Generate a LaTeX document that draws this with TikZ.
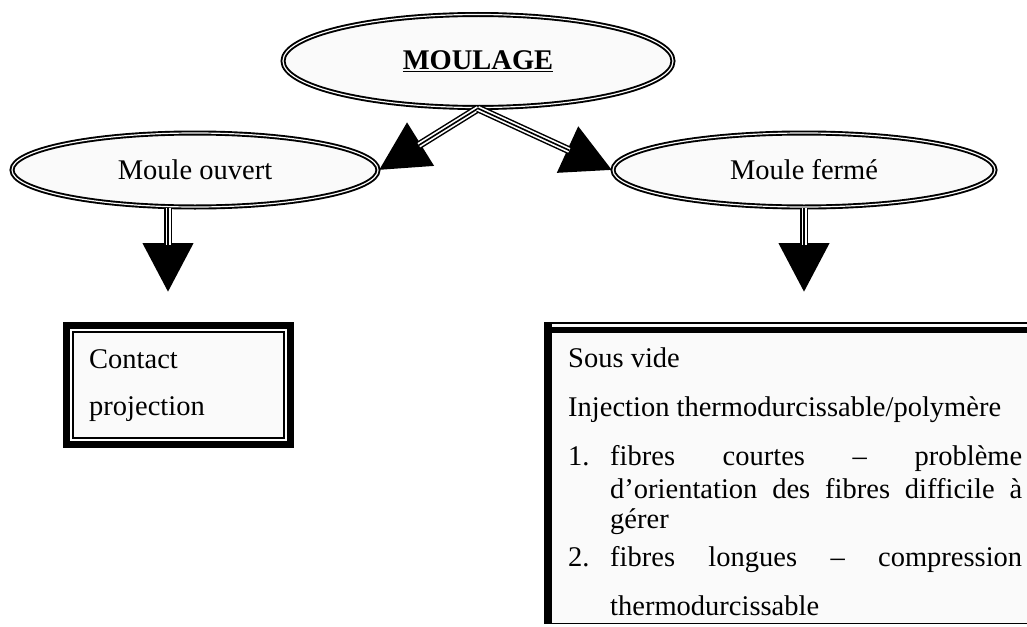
\documentclass[tikz,border=0pt]{standalone}
\usepackage{fontspec}
\setmainfont{Liberation Serif}
\usetikzlibrary{shapes.geometric,arrows.meta}
\definecolor{paper}{RGB}{250,250,250}
\begin{document}
\begin{tikzpicture}[x=1pt,y=-1pt,
  every node/.style={font=\fontsize{28.5}{34}\selectfont, inner sep=0pt},
  oval/.style={ellipse, draw, fill=paper, line width=1.9pt, double=paper, double distance=1.2pt},
  arr/.style={line width=8pt, -{Triangle[length=49pt,width=49pt]},
    postaction={draw=white, line width=5pt, -, shorten >=47pt},
    postaction={draw=black, line width=1.6pt, -, shorten >=47pt}},
  txt/.style={anchor=base west},
  frame/.style={draw, fill=paper, line width=1.2pt}
]
\useasboundingbox (0,0) rectangle (1027,626);
\clip (0,0) rectangle (1027,626);
\fill[white] (0,0) rectangle (1027,626);

% ellipses
\node[oval, minimum width=390pt, minimum height=93pt] (moulage) at (478,61) {\textbf{\underline{MOULAGE}}};
\node[oval, minimum width=366pt, minimum height=74pt] (ouvert) at (195,170) {Moule ouvert};
\node[oval, minimum width=382pt, minimum height=74pt] (ferme) at (804,170) {Moule fermé};

% left box
\node[frame, minimum width=211pt, minimum height=106pt] (contact) at (178.5,385) {};
\draw[line width=7pt] ([shift={(-5.5,-5.5)}]contact.north west) rectangle ([shift={(5.5,5.5)}]contact.south east);
\node[txt] (c1) at (89,368) {Contact};
\node[txt] (c2) at (89,415) {projection};

% right box
\node[frame, minimum width=495pt, minimum height=300.5pt] (bigbox) at (792.5,473.25) {};
\draw[line width=8pt] ([xshift=4pt]bigbox.north west) -- ([xshift=4pt]bigbox.south west);
\draw[line width=6pt] ([yshift=-8pt]bigbox.north west) -- ([yshift=-8pt]bigbox.north east);
\node[txt] (l1) at (568,367) {Sous vide};
\node[txt] (l2) at (568,416) {Injection thermodurcissable/polymère};
\node[txt] (n1) at (568,465) {1.};
\node[txt] (l3) at (610,465) {\makebox[412pt][s]{fibres courtes – problème}};
\node[txt] (l4) at (610,498) {\makebox[412pt][s]{d’orientation des fibres difficile à}};
\node[txt] (l5) at (610,528) {gérer};
\node[txt] (n2) at (568,566) {2.};
\node[txt] (l6) at (610,566) {\makebox[412pt][s]{fibres longues – compression}};
\node[txt] (l7) at (610,615) {thermodurcissable};

% arrows
\coordinate (t1) at (168,292);
\coordinate (t2) at (804,292);
\draw[arr] (moulage.south) -- (ouvert.east);
\draw[arr] (moulage.south) -- (ferme.west);
\draw[arr] (ouvert.south -| t1) -- (t1);
\draw[arr] (ferme.south) -- (t2);
\end{tikzpicture}
\end{document}
